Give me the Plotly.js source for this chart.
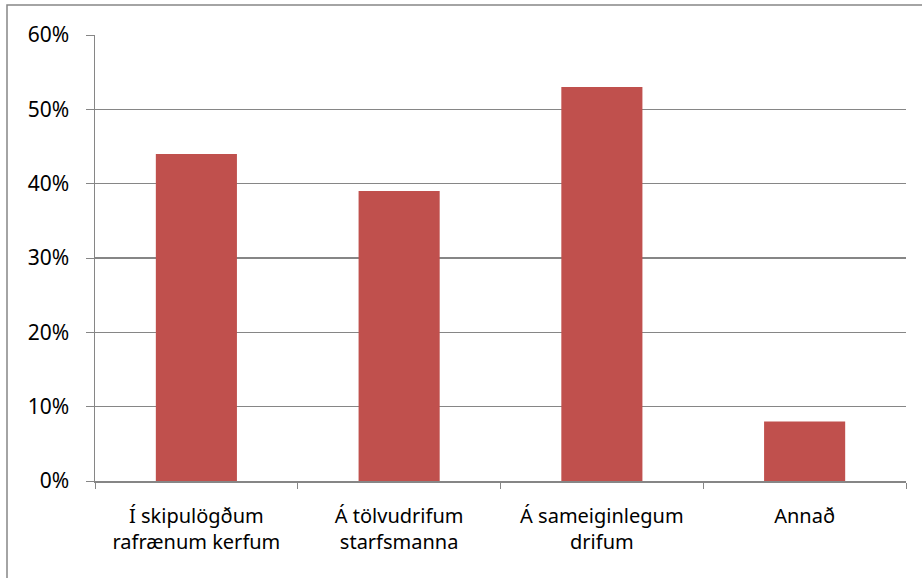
<!DOCTYPE html>
<html>
<head>
<meta charset="utf-8">
<script src="https://cdn.plot.ly/plotly-3.0.1.min.js"></script>
<style>html,body{margin:0;padding:0;background:#fff;}#chart{width:922px;height:578px;}</style>
</head>
<body>
<div id="chart"></div>
<script>
const categories = ["Í skipulögðum<br>rafrænum kerfum", "Á tölvudrifum<br>starfsmanna", "Á sameiginlegum<br>drifum", "Annað"];
const values = [0.44, 0.39, 0.53, 0.08];
const yTickVals = [0, 0.1, 0.2, 0.3, 0.4, 0.5, 0.6];
const yTickText = ["0%", "10%", "20%", "30%", "40%", "50%", "60%"];

const L = 95, R = 906, T = 35, B = 481, W = 922, H = 578;
const pw = R - L, ph = B - T;
const px = x => (x - L) / pw;
const py = y => (B - y) / ph;

Plotly.newPlot('chart', [{
  type: 'bar',
  x: categories,
  y: values,
  marker: {color: '#C0504D'},
  hoverinfo: 'none'
}], {
  width: W, height: H,
  margin: {l: L, r: W - R, t: T, b: H - B, pad: 0},
  paper_bgcolor: '#ffffff',
  plot_bgcolor: '#ffffff',
  bargap: 0.6,
  showlegend: false,
  font: {family: 'Noto Sans, sans-serif', size: 20, color: '#000000'},
  xaxis: {
    type: 'category',
    tickson: 'boundaries',
    ticks: 'outside',
    ticklen: 6,
    tickcolor: '#868686',
    showline: true,
    linecolor: '#868686',
    linewidth: 1.5,
    showgrid: false,
    tickfont: {size: 20},
    ticklabelstandoff: 16,
    fixedrange: true
  },
  yaxis: {
    range: [0, 0.6],
    tickvals: yTickVals,
    ticktext: yTickText,
    ticks: 'outside',
    ticklen: 8,
    tickcolor: '#868686',
    showline: true,
    linecolor: '#868686',
    linewidth: 1.5,
    showgrid: true,
    gridcolor: '#868686',
    gridwidth: 1.2,
    zeroline: false,
    tickfont: {size: 21},
    ticklabelstandoff: 12,
    fixedrange: true
  },
  shapes: [{
    type: 'rect', xref: 'paper', yref: 'paper',
    x0: px(7), x1: px(940), y0: py(600), y1: py(5),
    line: {color: '#868686', width: 1.5},
    fillcolor: 'rgba(0,0,0,0)',
    layer: 'above'
  }]
}, {displayModeBar: false, staticPlot: true});
</script>
</body>
</html>
